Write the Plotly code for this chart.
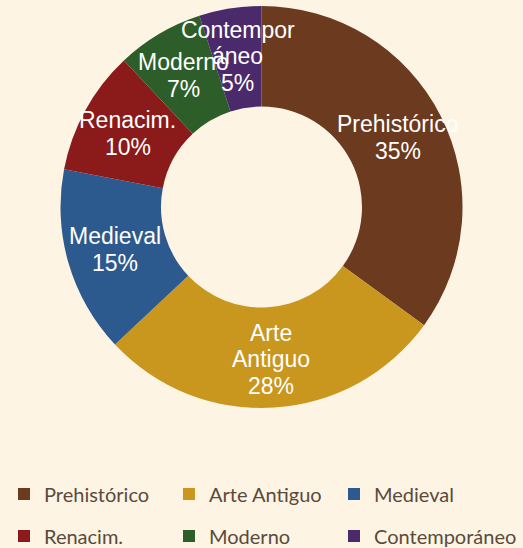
import math
import plotly.graph_objects as go

categories = ["Prehistórico", "Arte Antiguo", "Medieval", "Renacim.", "Moderno", "Contemporáneo"]
values = [35, 28, 15, 10, 7, 5]
slice_labels = [["Prehistórico"], ["Arte", "Antiguo"], ["Medieval"], ["Renacim."], ["Moderno"], ["Contempor", "áneo"]]
colors = ["#6B3A1F", "#C9961E", "#2D5A8E", "#8B1A1A", "#2D5E2A", "#4A2A6A"]

W, H = 523, 548
bg = "#FDF4E4"

dom_y = [(H - 408) / H, (H - 6) / H]

fig = go.Figure()
fig.add_trace(go.Pie(
    labels=categories,
    values=values,
    marker=dict(colors=colors, line=dict(width=0)),
    hole=0.5,
    sort=False,
    direction="clockwise",
    rotation=0,
    textinfo="none",
    hoverinfo="skip",
    showlegend=False,
    domain=dict(x=[0, 1], y=dom_y),
))

# legend entries: three columns (one legend each), two rows, from categories/colours
legend_names = ["legend", "legend2", "legend3"]
for i, (cat, col) in enumerate(zip(categories, colors)):
    fig.add_trace(go.Scatter(
        x=[None], y=[None], mode="markers", name=cat,
        marker=dict(symbol="square", size=12, color=col, line=dict(width=0)),
        legend=legend_names[i % 3],
        legendgroup=f"g{i}",
        hoverinfo="skip",
    ))

# labels placed at slice mid-angles, from the data (one annotation per line)
total = sum(values)
cx = 0.5
cy = (dom_y[0] + dom_y[1]) / 2
R_px = (dom_y[1] - dom_y[0]) * H / 2
r_lab = R_px * 0.76
line_h = 26.5
cum = 0
for cat, lab, v in zip(categories, slice_labels, values):
    mid = (cum + v / 2) / total * 2 * math.pi
    cum += v
    dx = r_lab * math.sin(mid) / W
    dy = r_lab * math.cos(mid) / H
    lines = lab + [f"{v}%"]
    n = len(lines)
    for k, t in enumerate(lines):
        fig.add_annotation(
            x=cx + dx, y=cy + dy, xref="paper", yref="paper",
            xanchor="center", yanchor="middle",
            yshift=((n - 1) / 2 - k) * line_h,
            text=t, showarrow=False,
            font=dict(family="Liberation Sans, Arial", size=23, color="white"),
            align="center",
        )

leg_common = dict(
    orientation="v", xanchor="left", yanchor="middle",
    y=(H - 515) / H,
    tracegroupgap=13,
    font=dict(family="Lato", size=20, color="#5A4A3C"),
    bgcolor="rgba(0,0,0,0)",
)

fig.update_layout(
    width=W, height=H,
    margin=dict(l=0, r=0, t=0, b=0, autoexpand=False),
    paper_bgcolor=bg, plot_bgcolor=bg,
    showlegend=True,
    xaxis=dict(visible=False),
    yaxis=dict(visible=False),
    legend=dict(x=4 / W, **leg_common),
    legend2=dict(x=169 / W, **leg_common),
    legend3=dict(x=334 / W, **leg_common),
)

fig.write_html("out.html")
